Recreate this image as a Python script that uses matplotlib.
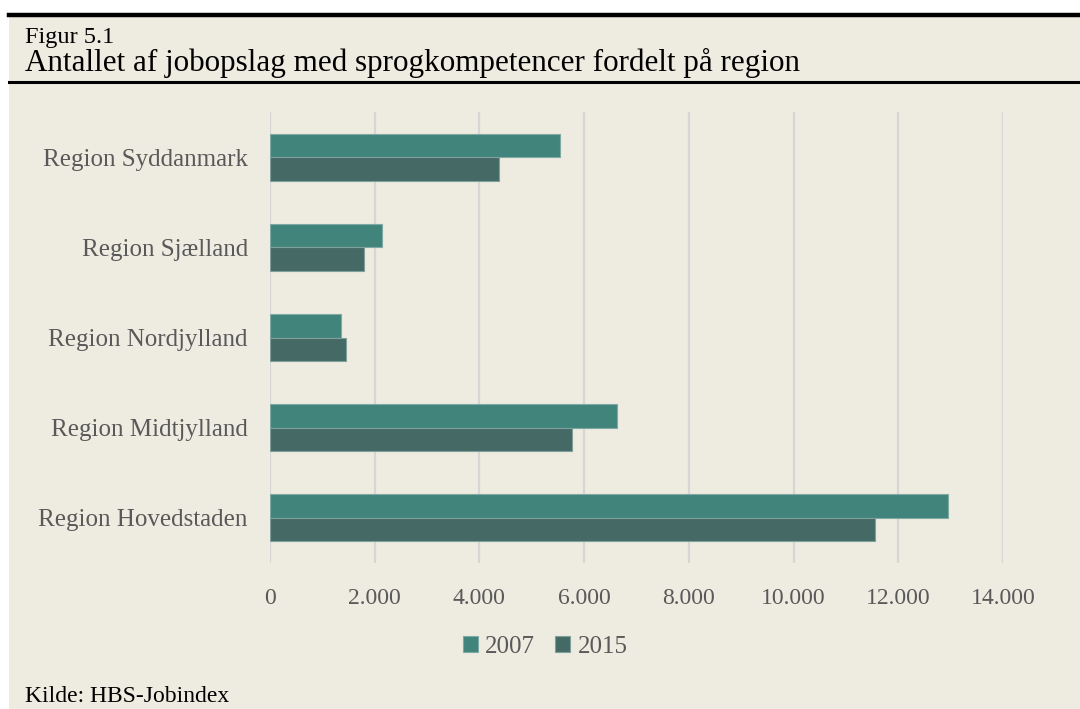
import numpy as np
import matplotlib.pyplot as plt
from matplotlib.patches import Rectangle
from matplotlib.lines import Line2D

regions = ['Region Hovedstaden', 'Region Midtjylland', 'Region Nordjylland',
           'Region Sjælland', 'Region Syddanmark']
v2007 = [12940, 6620, 1360, 2130, 5540]
v2015 = [11560, 5770, 1460, 1800, 4380]
xticks = [0, 2000, 4000, 6000, 8000, 10000, 12000, 14000]
xlabels = ['0', '2.000', '4.000', '6.000', '8.000', '10.000', '12.000', '14.000']

bg = '#EEEBE0'
c2007 = '#41847B'
c2015 = '#456965'
grey = '#595959'

plt.rcParams['font.family'] = ['Liberation Serif', 'DejaVu Serif']

fig = plt.figure(figsize=(10.8, 7.09), dpi=100)
fig.patch.set_facecolor('white')
W, H = 1080, 709

# beige panel and black rules
fig.patches.append(Rectangle((9 / W, 0), 1 - 9 / W, 1 - 13 / H, transform=fig.transFigure,
                             facecolor=bg, edgecolor='none', zorder=-5))
fig.add_artist(Line2D([9 / W, 1], [1 - 15 / H, 1 - 15 / H], color='black', lw=3.2))
fig.add_artist(Line2D([9 / W, 1], [1 - 81.5 / H, 1 - 81.5 / H], color='black', lw=2.2))

fig.text(25 / W, 1 - 38 / H, 'Figur 5.1', fontsize=17.5, va='center', ha='left', color='black')
fig.text(25 / W, 1 - 63 / H, 'Antallet af jobopslag med sprogkompetencer fordelt på region',
         fontsize=22.4, va='center', ha='left', color='black')
fig.text(25 / W, 1 - 697 / H, 'Kilde: HBS-Jobindex', fontsize=17, va='center', ha='left',
         color='black')

ax = fig.add_axes([270 / W, 1 - 563 / H, (1003 - 270) / W, (563 - 112) / H])
ax.set_facecolor(bg)

y = np.arange(len(regions))
h = 0.26
ax.barh(y + h / 2, v2007, height=h, color=c2007, edgecolor='#7FA9A3', linewidth=0.8,
        label='2007', zorder=3)
ax.barh(y - h / 2, v2015, height=h, color=c2015, edgecolor='#7FA09C', linewidth=0.8,
        label='2015', zorder=3)

ax.set_xlim(0, 14000)
ax.set_ylim(-0.5, len(regions) - 0.5)
ax.set_xticks(xticks)
ax.set_xticklabels(xlabels)
ax.set_yticks(y)
ax.set_yticklabels(regions)
ax.tick_params(axis='x', length=0, labelsize=17, colors=grey, pad=18)
ax.tick_params(axis='y', length=0, labelsize=18, colors=grey, pad=16)
ax.grid(axis='x', color='#D6D6D6', lw=1.6, zorder=0)
for s in ax.spines.values():
    s.set_visible(False)

leg = fig.legend(handles=[ax.containers[0], ax.containers[1]], labels=['2007', '2015'],
                 loc='center', bbox_to_anchor=(545 / W, 1 - 647 / H), ncol=2, frameon=False,
                 fontsize=18, handlelength=0.6, handleheight=0.6, columnspacing=0.8,
                 handletextpad=0.3)
for t in leg.get_texts():
    t.set_color(grey)

fig.savefig('out.png', dpi=100, facecolor=fig.get_facecolor())
